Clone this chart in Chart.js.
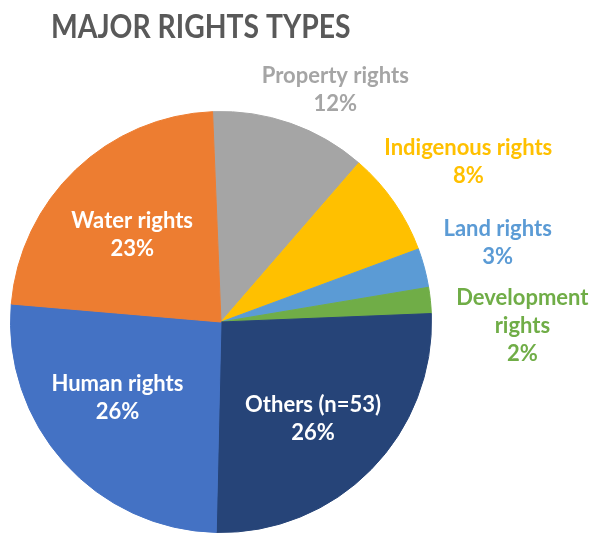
<!DOCTYPE html>
<html>
<head>
<meta charset="utf-8">
<script src="https://cdn.jsdelivr.net/npm/chart.js@4.4.1/dist/chart.umd.min.js"></script>
<style>
html, body { margin: 0; padding: 0; background: #fff; }
#wrap { position: relative; width: 591px; height: 534px; }
</style>
</head>
<body>
<div id="wrap"><canvas id="chart"></canvas></div>
<script>
const categories = ['Property rights', 'Indigenous rights', 'Land rights', 'Development rights', 'Others (n=53)', 'Human rights', 'Water rights'];
const shares = [12, 8, 3, 2, 26, 26, 23];
const labelLines = [['Property rights'], ['Indigenous rights'], ['Land rights'], ['Development', 'rights'], ['Others (n=53)'], ['Human rights'], ['Water rights']];
const sliceColors = ['#A5A5A5', '#FFC000', '#5B9BD5', '#70AD47', '#264478', '#4472C4', '#ED7D31'];

// where each data label sits: fraction of the radius along the slice's mid angle, plus a nudge
const labelLayout = [
    { r: 1.24, dx: 28, dy: 14, color: '#A5A5A5' },
    { r: 1.40, dx: 5, dy: 8, color: '#FFC000' },
    { r: 1.365, dx: -1, dy: -5, color: '#5B9BD5' },
    { r: 1.43, dx: 2, dy: 35, color: '#70AD47' },
    { r: 0.60, dx: 2, dy: 8, color: '#FFFFFF' },
    { r: 0.61, dx: -8, dy: -10, color: '#FFFFFF' },
    { r: 0.59, dx: -3, dy: 3, color: '#FFFFFF' }
];

const FONT = 'Lato, "Open Sans", sans-serif';

const pieLabels = {
    id: 'pieLabels',
    afterDraw(chart) {
        const ctx = chart.ctx;
        ctx.save();

        // heading, squeezed a little to keep the narrow look
        ctx.save();
        ctx.translate(51, 28);
        ctx.scale(0.885, 1);
        ctx.fillStyle = '#595959';
        ctx.font = 'bold 32px ' + FONT;
        ctx.textAlign = 'left';
        ctx.textBaseline = 'middle';
        ctx.fillText('MAJOR RIGHTS TYPES', 0, 0);
        ctx.restore();

        const arcs = chart.getDatasetMeta(0).data;
        ctx.font = 'bold 22px ' + FONT;
        ctx.textAlign = 'center';
        ctx.textBaseline = 'middle';
        const lineH = 28;
        arcs.forEach((arc, i) => {
            const p = arc.getProps(['x', 'y', 'startAngle', 'endAngle', 'outerRadius'], true);
            const mid = (p.startAngle + p.endAngle) / 2;
            const lay = labelLayout[i];
            const cx = p.x + Math.cos(mid) * p.outerRadius * lay.r + lay.dx;
            const cy = p.y + Math.sin(mid) * p.outerRadius * lay.r + lay.dy;
            const lines = labelLines[i].concat([shares[i] + '%']);
            const top = cy - (lines.length - 1) * lineH / 2;
            ctx.fillStyle = lay.color;
            lines.forEach((t, k) => ctx.fillText(t, cx, top + k * lineH));
        });
        ctx.restore();
    }
};

new Chart(document.getElementById('chart'), {
    type: 'pie',
    data: {
        labels: categories,
        datasets: [{
            data: shares,
            backgroundColor: sliceColors,
            borderColor: sliceColors,
            borderWidth: 1,
            hoverOffset: 0
        }]
    },
    options: {
        responsive: true,
        maintainAspectRatio: false,
        animation: false,
        events: [],
        rotation: -2.3,
        layout: {
            padding: { left: 10, right: 159, top: 111, bottom: 1 }
        },
        plugins: {
            legend: { display: false },
            tooltip: { enabled: false },
            title: { display: false }
        }
    },
    plugins: [pieLabels]
});
</script>
</body>
</html>
